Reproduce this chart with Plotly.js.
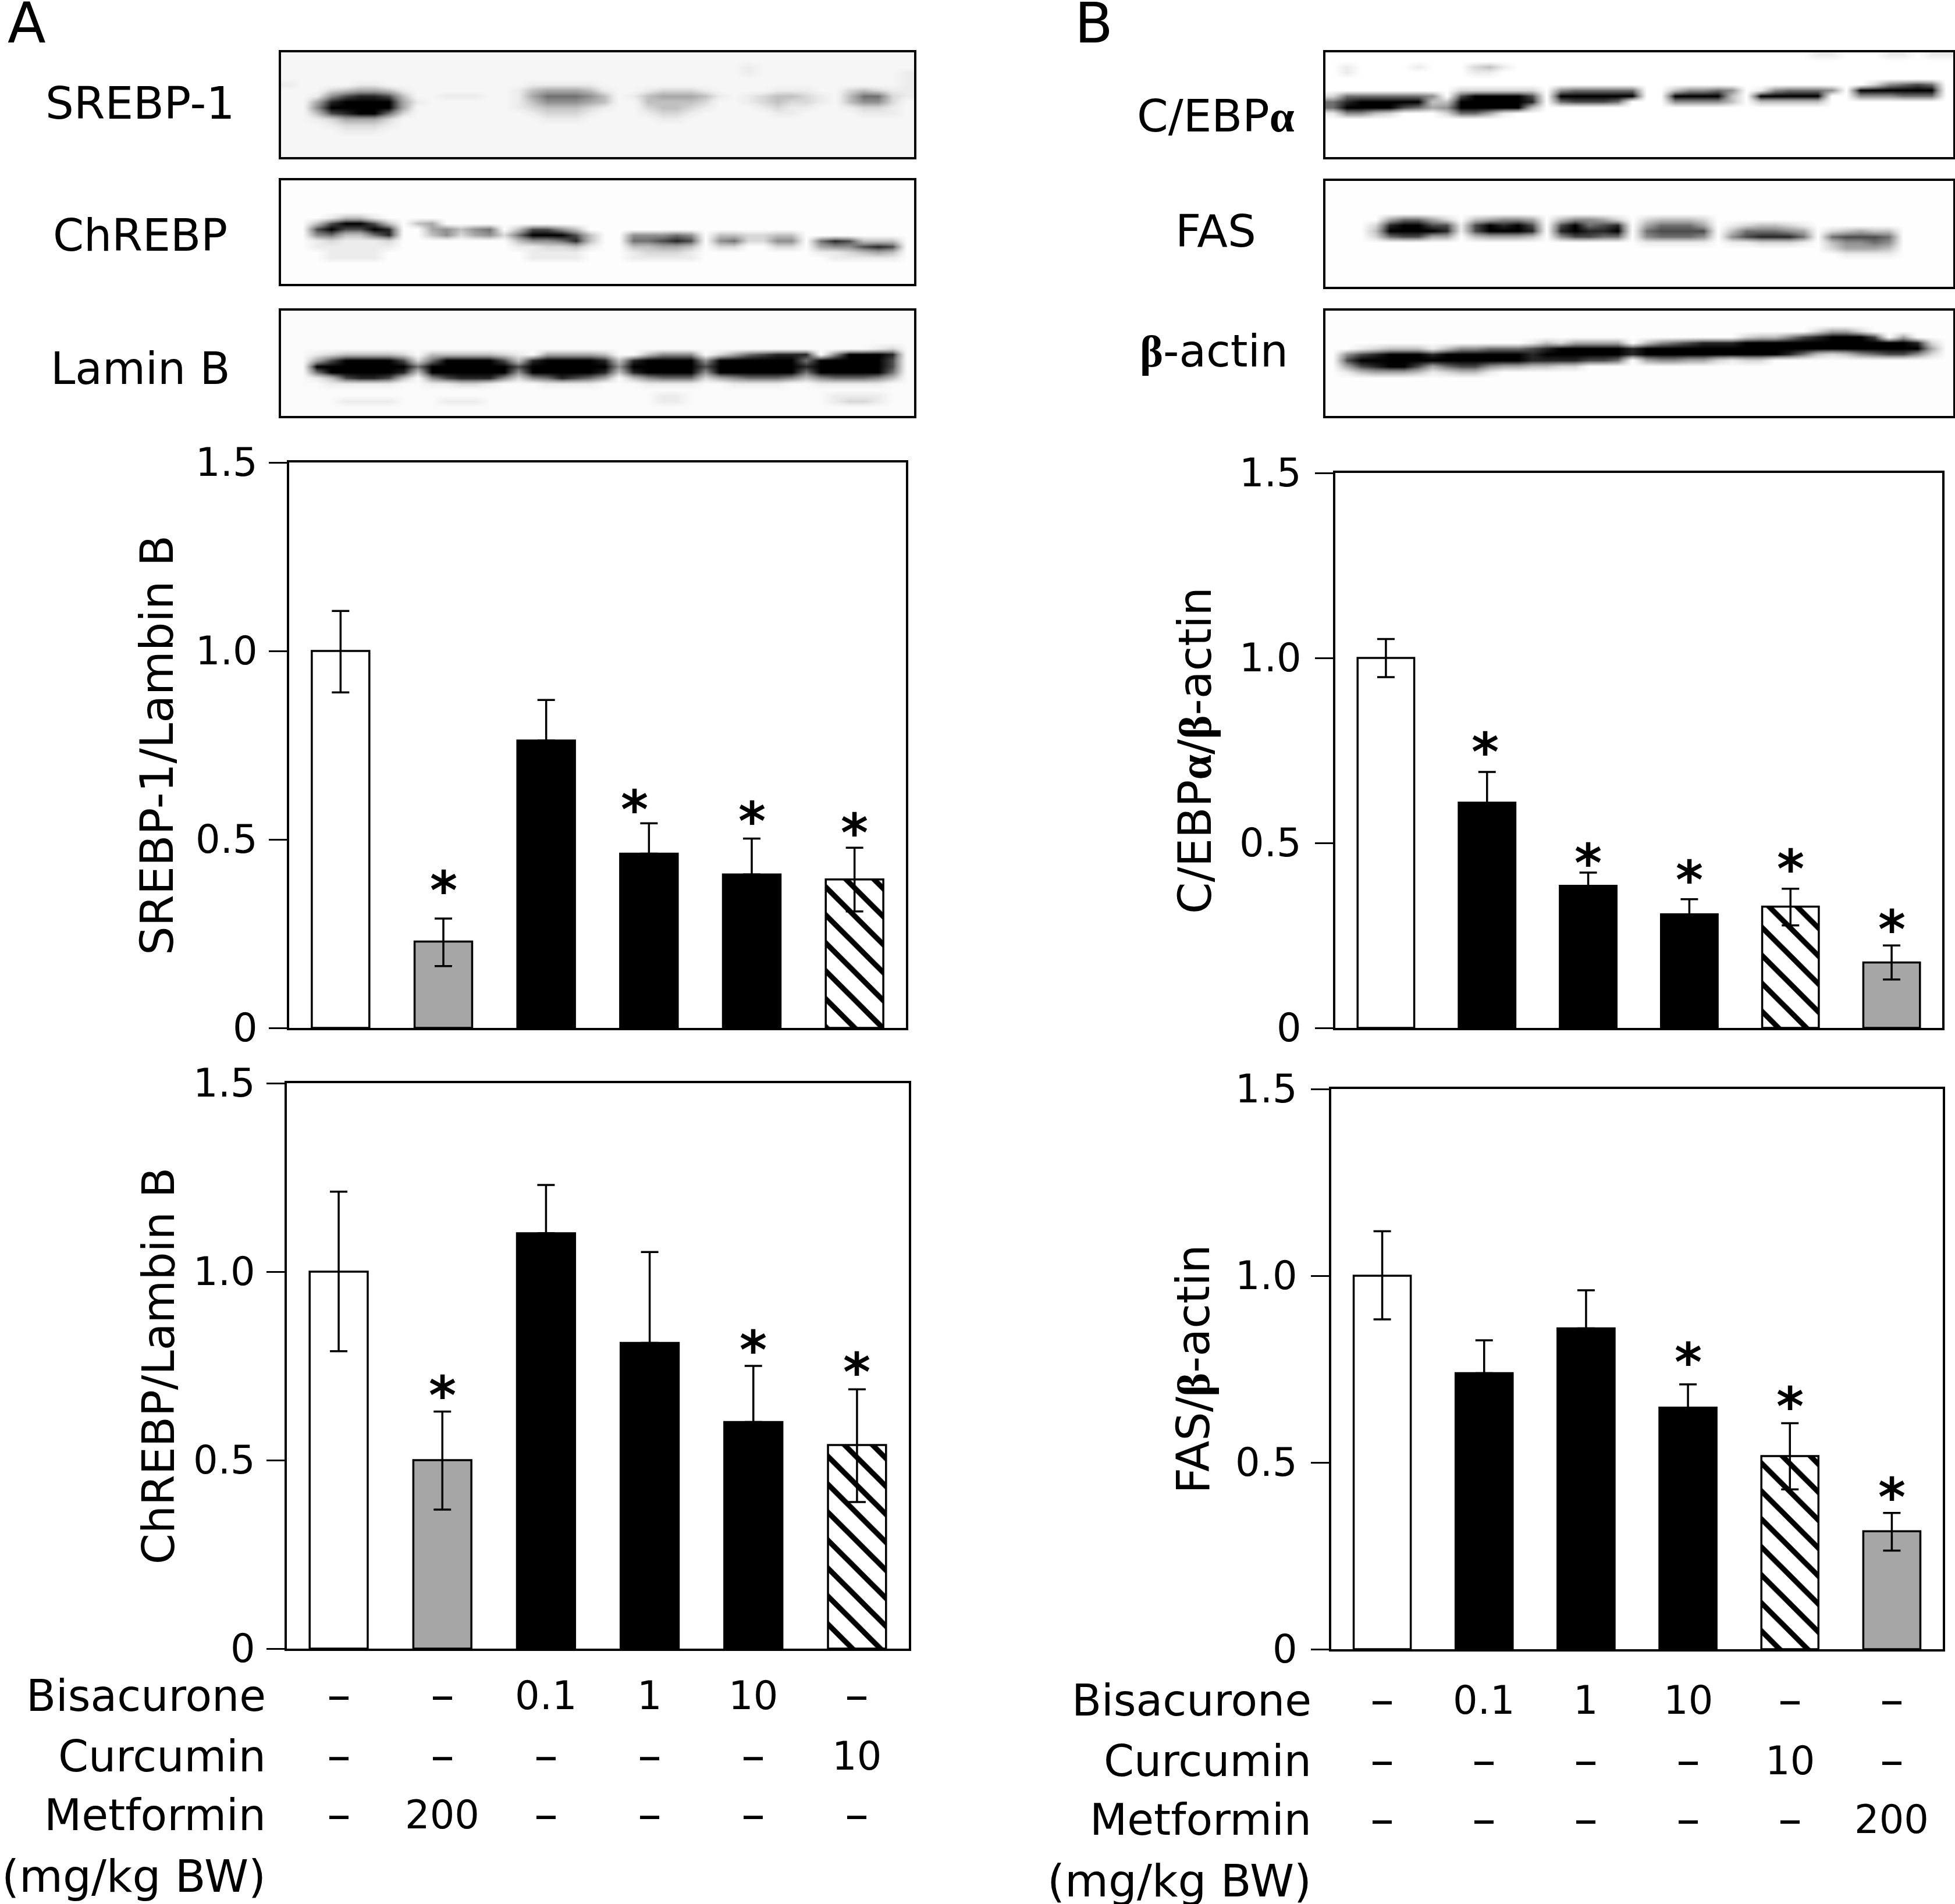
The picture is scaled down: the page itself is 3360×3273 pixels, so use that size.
<!DOCTYPE html>
<html>
<head>
<meta charset="utf-8">
<script src="https://cdn.plot.ly/plotly-3.0.1.min.js"></script>
<style>
  html, body { margin: 0; padding: 0; background: #fff; }
</style>
</head>
<body>
<div id="chart"></div>
<script>
const W = 3360, H = 3273;
const FONT = '"DejaVu Sans", Verdana, sans-serif';
const GREEK = 'font-family:\'Liberation Serif\';font-weight:bold';

// bar fill kinds
const sA = ['white', 'gray', 'black', 'black', 'black', 'hatch'];
const sB = ['white', 'black', 'black', 'black', 'hatch', 'gray'];

// panel A top: SREBP-1/Lambin B
const srebpVal = [1.0, 0.229, 0.7625, 0.462, 0.407, 0.394];
const srebpUp = [0.106, 0.061, 0.1075, 0.081, 0.0955, 0.084];
const srebpDown = [0.11, 0.065, 0, 0, 0, 0.085];
const srebpStarX = [1, 2.86, 4, 5];
const srebpStarY = [0.393, 0.607, 0.577, 0.546];

// panel A bottom: ChREBP/Lambin B
const chrebpVal = [1.0, 0.5, 1.102, 0.811, 0.601, 0.54];
const chrebpUp = [0.212, 0.129, 0.128, 0.241, 0.149, 0.148];
const chrebpDown = [0.211, 0.131, 0, 0, 0, 0.151];
const chrebpStarX = [1, 4, 5];
const chrebpStarY = [0.70, 0.82, 0.761];

// panel B top: C/EBPa/b-actin
const cebpVal = [1.0, 0.609, 0.384, 0.307, 0.328, 0.177];
const cebpUp = [0.051, 0.083, 0.036, 0.041, 0.048, 0.046];
const cebpDown = [0.052, 0, 0, 0, 0.051, 0.046];
const cebpStarX = [0.98, 2, 3, 4, 5];
const cebpStarY = [0.775, 0.474, 0.429, 0.458, 0.295];

// panel B bottom: FAS/b-actin
const fasVal = [1.0, 0.739, 0.859, 0.647, 0.517, 0.316];
const fasUp = [0.119, 0.088, 0.102, 0.062, 0.088, 0.049];
const fasDown = [0.117, 0, 0, 0, 0.089, 0.052];
const fasStarX = [3, 4, 5];
const fasStarY = [0.796, 0.678, 0.436];

const yTicks = [0, 0.5, 1, 1.5];
const yTickText = ['0', '0.5', '1.0', '1.5'];

// dose table under the bottom charts
const rowNames = ['Bisacurone', 'Curcumin', 'Metformin', '(mg/kg BW)'];
const doseA = [
  ['–', '–', '0.1', '1', '10', '–'],
  ['–', '–', '–', '–', '–', '10'],
  ['–', '200', '–', '–', '–', '–']
];
const doseB = [
  ['–', '0.1', '1', '10', '–', '–'],
  ['–', '–', '–', '–', '10', '–'],
  ['–', '–', '–', '–', '–', '200']
];

// western blots, darkness 0-9, 18 rows x 44 columns
const blotSrebp = [
  '0000 0000 0000 0000 0000 0000 0000 0000 0000 0000 0000',
  '0000 0000 0000 0000 0000 0000 0000 0000 0000 0000 0000',
  '0000 0000 0000 0000 0000 0000 0000 0000 1000 0000 0000',
  '0000 0000 0000 0000 0000 0000 0000 0000 1000 0000 0001',
  '0000 0000 0000 0000 0000 0000 0000 0000 0000 0000 0001',
  '1000 0110 0000 0000 0111 1100 0000 0000 0000 0000 0001',
  '0002 3443 1000 0000 1344 4310 0122 2100 0011 1002 3211',
  '0015 7887 3001 1100 1466 6530 1344 4310 1233 2103 6621',
  '0048 9999 4100 0000 1355 5430 0333 3200 1232 2103 5520',
  '0059 9999 4000 0000 1233 3210 0233 2100 0121 1001 2210',
  '0037 8996 2000 0000 0122 2100 0122 1000 0011 0000 1110',
  '0012 4442 0000 0000 0011 1000 0011 0000 0000 0000 0000',
  '0001 2221 0000 0000 0000 0000 0000 0000 0000 0000 0000',
  '0000 1110 0000 0000 0000 0000 0000 0000 0000 0000 0000',
  '0000 0000 0000 0000 0000 0000 0000 0000 0000 0000 0000',
  '0000 0000 0000 0000 0000 0000 0000 0000 0000 0000 0000',
  '0000 0000 0000 0000 0000 0000 0000 0000 0000 0000 0000',
  '0000 0000 0000 0000 0000 0000 0000 0000 0000 0000 0000'
];
const blotChrebp = [
  '0000 0000 0000 0000 0000 0000 0000 0000 0000 0000 0000',
  '0000 0000 0000 0000 0000 0000 0000 0000 0000 0000 0000',
  '0000 0000 0000 0000 0000 0000 0000 0000 0000 0000 0000',
  '0000 0000 0000 0000 0000 0000 0000 0000 0000 0000 0000',
  '0000 0000 0000 0000 0000 0000 0000 0000 0000 0000 0000',
  '0000 0000 0000 0000 0000 0000 0000 0000 0000 0000 0000',
  '0001 3310 0000 0000 0000 0000 0000 0000 0000 0000 0000',
  '0037 9973 0340 0000 0000 0000 0000 0000 0000 0000 0000',
  '0079 7798 0045 3560 3775 3000 0000 0000 0000 0000 0000',
  '0056 3368 0035 2452 6999 7300 5556 5033 2233 0000 0000',
  '0012 1112 0000 0000 3556 8300 6678 7056 2255 0687 3330',
  '0011 1111 0000 0000 1122 3100 3344 3022 0022 0455 7870',
  '0001 1110 0000 0000 0111 1000 1222 1000 0000 0112 3430',
  '0001 1110 0000 0000 0111 1000 1111 1000 0000 0011 1110',
  '0000 0000 0000 0000 0000 0000 0000 0000 0000 0000 0000',
  '0000 0000 0000 0000 0000 0000 0000 0000 0000 0000 0000',
  '0000 0000 0000 0000 0000 0000 0000 0000 0000 0000 0000',
  '0000 0000 0000 0000 0000 0000 0000 0000 0000 0000 0000'
];
const blotLamin = [
  '0000 0000 0000 0000 0000 0000 0000 0000 0000 0000 0000',
  '0000 0000 0000 0000 0000 0000 0000 0000 0000 0000 0000',
  '0000 0000 0000 0000 0000 0000 0000 0000 0000 0000 0000',
  '0000 0000 0000 0000 0000 0000 0000 0000 0000 0000 0000',
  '0000 0000 0000 0000 0000 0000 0000 0000 0000 0000 0000',
  '0000 0000 0000 0000 0000 0000 0000 0000 0000 0000 0000',
  '0000 0000 0000 0000 0000 0000 0000 0000 0000 0000 0120',
  '0012 3333 2033 3332 1044 4430 0355 5024 6788 8059 9980',
  '0047 9999 7269 9997 3899 9983 8999 9599 9999 6999 9970',
  '0099 9999 9699 9999 7999 9995 9999 9799 9999 8999 9970',
  '0069 9999 8399 9999 5999 9983 8999 9599 9999 6999 9960',
  '0013 7887 3057 8885 2568 7640 3566 6245 6665 3566 6530',
  '0001 1111 0011 2210 0011 1100 0111 1001 1110 0111 1100',
  '0000 0000 0000 0000 0000 0000 0000 0000 0000 0000 0000',
  '0000 0000 0000 0000 0000 0000 0011 0000 0000 0011 1100',
  '0000 1111 0001 1100 0000 0000 0011 0000 0000 0012 2100',
  '0000 0000 0000 0000 0000 0000 0000 0000 0000 0000 0000',
  '0000 0000 0000 0000 0000 0000 0000 0000 0000 0000 0000'
];
const blotCebp = [
  '0000 0000 0000 0000 0000 0000 0000 0000 0011 0001 1011',
  '0000 0000 0000 0000 0000 0000 0000 0000 0000 0000 0000',
  '0100 0010 0023 1000 0000 0000 0000 0000 0000 0000 0000',
  '0100 0000 0011 0000 0000 0000 0000 0000 0000 0000 0000',
  '0000 0000 0000 0000 0000 0000 0000 0000 0000 0000 0000',
  '0000 0000 0000 0000 0000 0000 0000 0000 0000 0025 6760',
  '0000 0000 0222 2220 5666 6600 3556 5015 6665 0999 9990',
  '2666 6665 0799 9970 9999 9900 9999 3099 9990 0555 6660',
  '6899 9993 3999 9980 6777 6000 5555 3033 3330 0000 0000',
  '6999 9764 5999 9930 0000 0000 0000 0000 0000 0000 0000',
  '1553 2000 2664 1000 0000 0000 0000 0000 0000 0000 0000',
  '0000 0000 0000 0000 0000 0000 0000 0000 0000 0000 0000',
  '0000 0000 0000 0000 0000 0000 0000 0000 0000 0000 0000',
  '0000 0000 0000 0000 0000 0000 0000 0000 0000 0000 0000',
  '0000 0000 0000 0000 0000 0000 0000 0000 0000 0000 0000',
  '0000 0000 0000 0000 0000 0000 0000 0000 0000 0000 0000',
  '0000 0000 0000 0000 0000 0000 0000 0000 0000 0000 0000',
  '0000 0000 0000 0000 0000 0000 0000 0000 0000 0000 0000'
];
const blotFas = [
  '0000 0000 0000 0000 0000 0000 0000 0000 0000 0000 0000',
  '0000 0000 0000 0000 0000 0000 0000 0000 0000 0000 0000',
  '0000 0000 0000 0000 0000 0000 0000 0000 0000 0000 0000',
  '0000 0000 0000 0000 0000 0000 0000 0000 0000 0000 0000',
  '0000 0000 0000 0000 0000 0000 0000 0000 0000 0000 0000',
  '0000 0000 0000 0000 0000 0000 0000 0000 0000 0000 0000',
  '0000 4664 2034 5540 3554 2023 3320 0000 0000 0000 0000',
  '0002 8997 7179 8970 7967 8046 6640 1233 2100 0000 0000',
  '0003 9999 8179 9980 8988 9067 7770 3666 5402 3433 0000',
  '0002 6774 4034 4430 5776 6056 6650 5788 8606 7776 0000',
  '0000 0000 0000 0000 0000 0011 1110 1122 2103 5565 0000',
  '0000 0000 0000 0000 0000 0000 0000 0000 0002 4443 0000',
  '0000 0000 0000 0000 0000 0000 0000 0000 0000 1111 0000',
  '0000 0000 0000 0000 0000 0000 0000 0000 0000 0000 0000',
  '0000 0000 0000 0000 0000 0000 0000 0000 0000 0000 0000',
  '0000 0000 0000 0000 0000 0000 0000 0000 0000 0000 0000',
  '0000 0000 0000 0000 0000 0000 0000 0000 0000 0000 0000',
  '0000 0000 0000 0000 0000 0000 0000 0000 0000 0000 0000'
];
const blotActin = [
  '0000 0000 0000 0000 0000 0000 0000 0000 0000 0000 0000',
  '0000 0000 0000 0000 0000 0000 0000 0000 0000 0000 0000',
  '0000 0000 0000 0000 0000 0000 0000 0000 0000 0000 0000',
  '0000 0000 0000 0000 0000 0000 0000 0000 0024 4200 0000',
  '0000 0000 0000 0000 0000 0000 0000 0233 5789 9970 4000',
  '0000 0000 0000 0013 2444 4035 6788 8999 9999 9999 9820',
  '0012 3331 3556 6678 9999 9899 9999 9999 9999 9999 9940',
  '0578 9998 9999 9989 9999 9899 9999 9999 8632 3567 7520',
  '0799 9999 9999 9988 8877 6045 5442 1220 0000 0000 0000',
  '0478 9974 6775 4433 2200 0000 0000 0000 0000 0000 0000',
  '0134 4431 2331 0000 0000 0000 0000 0000 0000 0000 0000',
  '0000 0000 0000 0000 0000 0000 0000 0000 0000 0000 0000',
  '0000 0000 0000 0000 0000 0000 0000 0000 0000 0000 0000',
  '0000 0000 0000 0000 0000 0000 0000 0000 0000 0000 0000',
  '0000 0000 0000 0000 0000 0000 0000 0000 0000 0000 0000',
  '0000 0000 0000 0000 0000 0000 0000 0000 0000 0000 0000',
  '0000 0000 0000 0000 0000 0000 0000 0000 0000 0000 0000',
  '0000 0000 0000 0000 0000 0000 0000 0000 0000 0000 0000'
];

function domX(l, r) { return [l / W, r / W]; }
function domY(t, b) { return [(H - b) / H, (H - t) / H]; }
function rows(strs) {
  return strs.map(s => s.replace(/ /g, '').split('').map(Number));
}

let data = [];
let layout = {
  width: W, height: H,
  autosize: false,
  margin: {l: 0, r: 0, t: 0, b: 0},
  paper_bgcolor: '#fff', plot_bgcolor: '#fff',
  font: {family: FONT, color: '#000', size: 64},
  showlegend: false,
  hovermode: false,
  barmode: 'overlay',
  annotations: []
};

function note(text, x, y, size, xanchor) {
  layout.annotations.push({
    text: text, x: x / W, y: 1 - y / H,
    xref: 'paper', yref: 'paper',
    xanchor: xanchor || 'center', yanchor: 'middle',
    showarrow: false,
    font: {family: FONT, size: size, color: '#000'}
  });
}

function addBars(n, box, styles, val, up, down, starX, starY, title, standoff, labelGap, titleSize) {
  let xa = 'xaxis' + n, ya = 'yaxis' + n;
  let xr = 'x' + n, yr = 'y' + n;
  let fill = {white: '#ffffff', gray: '#a6a6a6', black: '#000000'};
  let err = idx => ({
    type: 'data', symmetric: false,
    array: idx.map(i => up[i]), arrayminus: idx.map(i => down[i]),
    color: '#000', thickness: 3.5, width: 15
  });
  let plain = [], hatch = [];
  styles.forEach((s, i) => (s == 'hatch' ? hatch : plain).push(i));
  data.push({
    type: 'bar', x: plain, y: plain.map(i => val[i]), width: 0.56,
    xaxis: xr, yaxis: yr,
    marker: {color: plain.map(i => fill[styles[i]]), line: {color: '#000', width: 3.5}},
    error_y: err(plain)
  });
  data.push({
    type: 'bar', x: hatch, y: hatch.map(i => val[i]), width: 0.56,
    xaxis: xr, yaxis: yr,
    marker: {
      color: '#ffffff', line: {color: '#000', width: 3.5},
      pattern: {shape: '\\', fgcolor: '#000000', bgcolor: '#ffffff', size: 34, solidity: 0.27}
    },
    error_y: err(hatch)
  });
  layout[xa] = {
    domain: domX(box[0], box[1]), anchor: yr, range: [-0.5, 5.5],
    showticklabels: false, ticks: '', showgrid: false, zeroline: false,
    showline: true, mirror: true, linecolor: '#000', linewidth: 4
  };
  layout[ya] = {
    domain: domY(box[2], box[3]), anchor: xr, range: [0, 1.5],
    tickmode: 'array', tickvals: yTicks, ticktext: yTickText,
    ticks: 'outside', ticklen: 31, tickwidth: 3, tickcolor: '#000',
    ticklabelstandoff: labelGap,
    tickfont: {family: FONT, size: 67, color: '#000'},
    showgrid: false, zeroline: false,
    showline: true, mirror: true, linecolor: '#000', linewidth: 4,
    title: {text: title, standoff: standoff, font: {family: FONT, size: titleSize, color: '#000'}}
  };
  starX.forEach((sx, i) => {
    layout.annotations.push({
      text: '*', x: sx, y: starY[i], xref: xr, yref: yr,
      xanchor: 'center', yanchor: 'middle', yshift: -18, showarrow: false,
      font: {family: FONT, size: 90, color: '#000', weight: 'bold'}
    });
  });
}

function addBlot(n, box, strs, bg) {
  let z = rows(strs);
  let xr = 'x' + n, yr = 'y' + n;
  let grays = [bg, '#ececec', '#d8d8d8', '#c0c0c0', '#a8a8a8', '#909090', '#707070', '#4c4c4c', '#262626', '#000000'];
  data.push({
    type: 'heatmap', z: z, xaxis: xr, yaxis: yr,
    zmin: 0, zmax: 9, zsmooth: 'best', showscale: false, hoverinfo: 'skip',
    colorscale: grays.map((c, i) => [i / 9, c])
  });
  let ax = {
    showticklabels: false, ticks: '', showgrid: false, zeroline: false,
    showline: true, mirror: true, linecolor: '#000', linewidth: 4
  };
  layout['xaxis' + n] = Object.assign({}, ax, {domain: domX(box[0], box[1]), anchor: yr, range: [-0.5, 43.5]});
  layout['yaxis' + n] = Object.assign({}, ax, {domain: domY(box[2], box[3]), anchor: xr, range: [17.5, -0.5]});
}

function addTable(axisName, dose, rowY, labelRight) {
  rowNames.forEach((name, r) => {
    note(name, labelRight, rowY[r], r == 3 ? 77 : 74.5, 'right');
  });
  dose.forEach((row, r) => {
    row.forEach((cell, c) => {
      let dash = cell == '–';
      layout.annotations.push({
        text: cell, x: c, xref: axisName,
        y: 1 - (rowY[r] + (dash ? -2 : 0)) / H, yref: 'paper',
        xanchor: 'center', yanchor: 'middle', showarrow: false,
        font: {family: FONT, size: dash ? 82 : 67, color: '#000'}
      });
    });
  });
}

// bar panels: [left, right, top, bottom] in pixels
addBars('', [497, 1557, 795, 1767], sA, srebpVal, srebpUp, srebpDown, srebpStarX, srebpStarY, 'SREBP-1/Lambin B', 14, 6, 78);
addBars(2, [493, 1562, 1862, 2834], sA, chrebpVal, chrebpUp, chrebpDown, chrebpStarX, chrebpStarY, 'ChREBP/Lambin B', 8, 6, 76);
addBars(3, [2295, 3338, 813, 1767], sB, cebpVal, cebpUp, cebpDown, cebpStarX, cebpStarY,
  'C/EBP<span style="' + GREEK + '">α</span>/<span style="' + GREEK + '">β</span>-actin', 24, 10, 78);
addBars(4, [2288, 3339, 1872, 2835], sB, fasVal, fasUp, fasDown, fasStarX, fasStarY,
  'FAS/<span style="' + GREEK + '">β</span>-actin', 20, 10, 78);

// blots
addBlot(5, [483, 1571, 90, 270], blotSrebp, '#f6f6f6');
addBlot(6, [483, 1571, 310, 488], blotChrebp, '#fdfdfd');
addBlot(7, [483, 1571, 534, 715], blotLamin, '#fafafa');
addBlot(8, [2278, 3357, 90, 270], blotCebp, '#ffffff');
addBlot(9, [2278, 3357, 311, 493], blotFas, '#fefefe');
addBlot(10, [2278, 3357, 534, 715], blotActin, '#fdfdfd');

// blot labels and panel letters
note('SREBP-1', 240, 177, 77);
note('ChREBP', 241, 405, 76);
note('Lamin B', 242, 634, 76);
note('C/EBP<span style="' + GREEK + '">α</span>', 2089, 199, 77);
note('FAS', 2089, 398, 77);
note('<span style="' + GREEK + '">β</span>-actin', 2086, 603, 76);
note('A', 46, 40, 96);
note('B', 1880, 40, 96);

addTable('x2', doseA, [2915, 3019, 3120, 3225], 459);
addTable('x4', doseB, [2923, 3027, 3128, 3233], 2256);

Plotly.newPlot('chart', data, layout, {displayModeBar: false, staticPlot: true});
</script>
</body>
</html>
